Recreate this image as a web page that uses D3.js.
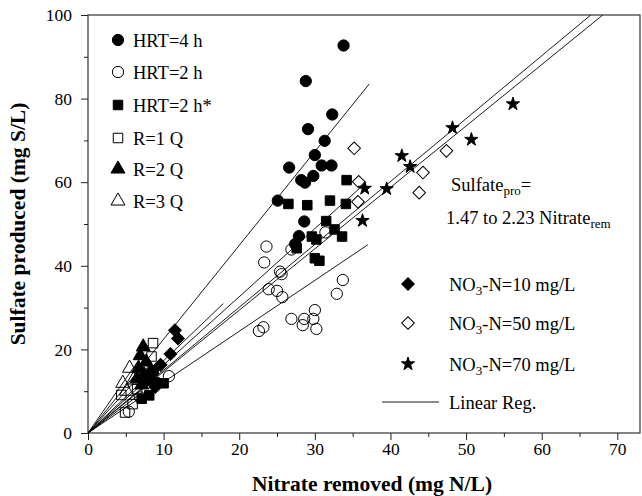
<!DOCTYPE html>
<html lang="en">
<head>
<meta charset="UTF-8">
<title>Sulfate produced vs nitrate removed</title>
<script src="https://d3js.org/d3.v7.min.js"></script>
<style>
    body { margin: 0; background: #fff; }
    svg text { font-family: "Liberation Serif", "Times New Roman", serif; }
    .axis text { font-size: 17.5px; fill: #000; font-family: "Liberation Serif", "Times New Roman", serif; }
    .axis path, .axis line { stroke: #222; }
    .title { font-size: 21.5px; font-weight: bold; }
    .lab { font-size: 18.5px; }
</style>
</head>
<body>
<div id="chart"></div>
<script>
const width = 642, height = 496;

// data: [nitrate removed, sulfate produced]
const hrt4 = [[33.8, 92.7], [28.8, 84.2], [32.3, 76.2], [29.1, 72.7], [31.3, 69.9], [30.0, 66.5],
    [26.6, 63.5], [30.9, 64.0], [32.2, 64.0], [29.8, 61.5], [28.2, 60.5], [28.7, 59.9],
    [25.1, 55.6], [28.6, 50.6], [27.9, 47.1], [27.4, 45.2], [8.4, 14.5], [9.1, 12.0]];
const hrt2 = [[23.6, 44.6], [23.3, 40.8], [26.9, 43.9], [25.4, 38.6], [25.6, 38.0], [23.9, 34.4],
    [25.0, 34.0], [25.7, 32.5], [33.7, 36.6], [32.9, 33.3], [30.0, 29.4], [26.9, 27.3],
    [28.6, 27.3], [29.8, 27.3], [28.4, 25.8], [30.2, 24.9], [23.2, 25.3], [22.6, 24.4],
    [31.4, 48.0], [10.7, 13.6], [5.4, 5.1], [6.9, 8.5]];
const hrt2s = [[34.2, 60.5], [26.5, 54.8], [29.0, 54.5], [32.0, 55.6], [34.1, 54.8], [31.5, 50.7],
    [32.6, 48.7], [33.6, 47.0], [29.6, 47.0], [30.2, 46.3], [27.6, 44.2], [30.0, 41.8],
    [30.6, 41.2], [10.0, 11.9], [8.1, 9.0], [7.5, 12.5], [8.7, 15.0], [7.1, 8.2]];
const r1 = [[8.6, 21.5], [8.4, 18.3], [4.4, 9.1], [4.9, 4.9], [5.9, 6.9], [6.5, 10.5]];
const r2 = [[7.3, 20.6], [6.9, 18.5], [7.7, 17.0], [6.7, 15.5], [7.4, 14.0], [7.9, 12.5],
    [7.1, 11.5], [6.5, 13.0]];
const r3 = [[4.6, 11.9], [6.0, 12.7], [5.5, 15.5], [5.1, 10.0]];
const no3_10 = [[11.5, 24.6], [11.9, 22.6], [10.9, 18.9], [9.6, 16.3], [8.3, 14.0], [8.9, 11.0]];
const no3_50 = [[35.2, 68.1], [35.8, 60.1], [35.7, 55.3], [44.3, 62.3], [43.8, 57.5], [47.4, 67.5]];
const no3_70 = [[41.5, 66.3], [42.6, 63.7], [36.6, 58.5], [39.5, 58.4], [36.3, 50.8],
    [56.2, 78.7], [48.2, 73.0], [50.7, 70.2]];

// linear regressions through the origin: slope and last x
const regSlopes = [2.245, 1.63, 1.504, 1.469, 1.217, 1.73, 2.6, 2.0, 1.35];
const regXEnd = [37.2, 36.8, 70, 72, 37.0, 17.9, 7.4, 8.4, 6.9];

const xTicks = [0, 10, 20, 30, 40, 50, 60, 70];
const yTicks = [0, 20, 40, 60, 80, 100];

const margin = {top: 15, right: 2, bottom: 63, left: 88};
const x = d3.scaleLinear().domain([0, 73]).range([margin.left, width - margin.right]);
const y = d3.scaleLinear().domain([0, 100]).range([height - margin.bottom, margin.top]);

const svg = d3.select("#chart").append("svg")
    .attr("width", width)
    .attr("height", height);

svg.append("clipPath").attr("id", "clip")
    .append("rect")
    .attr("x", x(0)).attr("y", y(100))
    .attr("width", x(73) - x(0)).attr("height", y(0) - y(100));

// frame
svg.append("rect")
    .attr("x", x(0)).attr("y", y(100))
    .attr("width", x(73) - x(0)).attr("height", y(0) - y(100))
    .attr("fill", "none").attr("stroke", "#333").attr("stroke-width", 1.2);

// axes: minor ticks first, then labelled major ticks
svg.append("g").attr("class", "axis").attr("transform", `translate(0,${y(0)})`)
    .call(d3.axisBottom(x).tickValues(d3.range(5, 73, 10)).tickSize(4).tickFormat(""))
    .call(g => g.select(".domain").remove());
svg.append("g").attr("class", "axis").attr("transform", `translate(0,${y(0)})`)
    .call(d3.axisBottom(x).tickValues(xTicks).tickSize(7).tickPadding(3).tickFormat(d3.format("d")))
    .call(g => g.select(".domain").remove());
svg.append("g").attr("class", "axis").attr("transform", `translate(${x(0)},0)`)
    .call(d3.axisLeft(y).tickValues(d3.range(10, 100, 20)).tickSize(4).tickFormat(""))
    .call(g => g.select(".domain").remove());
svg.append("g").attr("class", "axis").attr("transform", `translate(${x(0)},0)`)
    .call(d3.axisLeft(y).tickValues(yTicks).tickSize(7).tickPadding(9).tickFormat(d3.format("d")))
    .call(g => g.select(".domain").remove());

svg.append("text").attr("class", "title")
    .attr("x", 372).attr("y", 491).attr("text-anchor", "middle")
    .text("Nitrate removed (mg N/L)");
svg.append("text").attr("class", "title")
    .attr("transform", `translate(25,${(y(0) + y(100)) / 2}) rotate(-90)`)
    .attr("text-anchor", "middle")
    .text("Sulfate produced (mg S/L)");

// symbols
const sym = (type, size) => d3.symbol().type(type).size(size)();
const series = [
    {data: hrt4, path: sym(d3.symbolCircle, 100), fill: "#000", rot: 0},
    {data: hrt2, path: sym(d3.symbolCircle, 100), fill: "none", rot: 0},
    {data: hrt2s, path: sym(d3.symbolSquare, 90), fill: "#000", rot: 0},
    {data: r1, path: sym(d3.symbolSquare, 90), fill: "none", rot: 0},
    {data: r2, path: sym(d3.symbolTriangle, 85), fill: "#000", rot: 0},
    {data: r3, path: sym(d3.symbolTriangle, 85), fill: "none", rot: 0},
    {data: no3_10, path: sym(d3.symbolSquare, 80), fill: "#000", rot: 45},
    {data: no3_50, path: sym(d3.symbolSquare, 80), fill: "none", rot: 45},
    {data: no3_70, path: sym(d3.symbolStar, 55), fill: "#000", rot: 0}
];

const plot = svg.append("g").attr("clip-path", "url(#clip)");

series.forEach(s => {
    plot.append("g").selectAll("path")
        .data(s.data)
        .join("path")
        .attr("d", s.path)
        .attr("transform", d => `translate(${x(d[0])},${y(d[1])}) rotate(${s.rot})`)
        .attr("fill", s.fill)
        .attr("stroke", "#000")
        .attr("stroke-width", 1);
});

plot.append("g").selectAll("line")
    .data(regSlopes)
    .join("line")
    .attr("x1", x(0)).attr("y1", y(0))
    .attr("x2", (d, i) => x(regXEnd[i]))
    .attr("y2", (d, i) => y(d * regXEnd[i]))
    .attr("stroke", "#000").attr("stroke-width", 0.9);

// legend (left)
const leftLegend = ["HRT=4 h", "HRT=2 h", "HRT=2 h*", "R=1 Q", "R=2 Q", "R=3 Q"];
const leftRows = [40, 72, 105, 138, 169, 201];
leftLegend.forEach((t, i) => {
    const s = series[i];
    svg.append("path").attr("d", s.path)
        .attr("transform", `translate(118,${leftRows[i]}) rotate(${s.rot})`)
        .attr("fill", s.fill).attr("stroke", "#000");
    svg.append("text").attr("class", "lab")
        .attr("x", 133).attr("y", leftRows[i] + 6.5).text(t);
});

// legend (right)
const rightLegend = ["10", "50", "70"];
const rightRows = [284, 323, 364];
rightLegend.forEach((v, i) => {
    const s = series[6 + i];
    svg.append("path").attr("d", s.path)
        .attr("transform", `translate(408,${rightRows[i]}) rotate(${s.rot})`)
        .attr("fill", s.fill).attr("stroke", "#000");
    const t = svg.append("text").attr("class", "lab")
        .attr("x", 449).attr("y", rightRows[i] + 6.5);
    t.append("tspan").text("NO");
    t.append("tspan").attr("dy", 4).attr("font-size", "13px").text("3");
    t.append("tspan").attr("dy", -4).text(`-N=${v} mg/L`);
});
svg.append("line").attr("x1", 382).attr("x2", 439).attr("y1", 402).attr("y2", 402)
    .attr("stroke", "#000").attr("stroke-width", 0.9);
svg.append("text").attr("class", "lab").attr("x", 449).attr("y", 408.5).text("Linear Reg.");

// equation
const eq1 = svg.append("text").attr("class", "lab").attr("x", 451).attr("y", 191);
eq1.append("tspan").text("Sulfate");
eq1.append("tspan").attr("dy", 4).attr("font-size", "13px").text("pro");
eq1.append("tspan").attr("dy", -4).text("=");
const eq2 = svg.append("text").attr("class", "lab").attr("x", 446).attr("y", 224);
eq2.append("tspan").text("1.47 to 2.23 Nitrate");
eq2.append("tspan").attr("dy", 4).attr("font-size", "13px").text("rem");
</script>
</body>
</html>
